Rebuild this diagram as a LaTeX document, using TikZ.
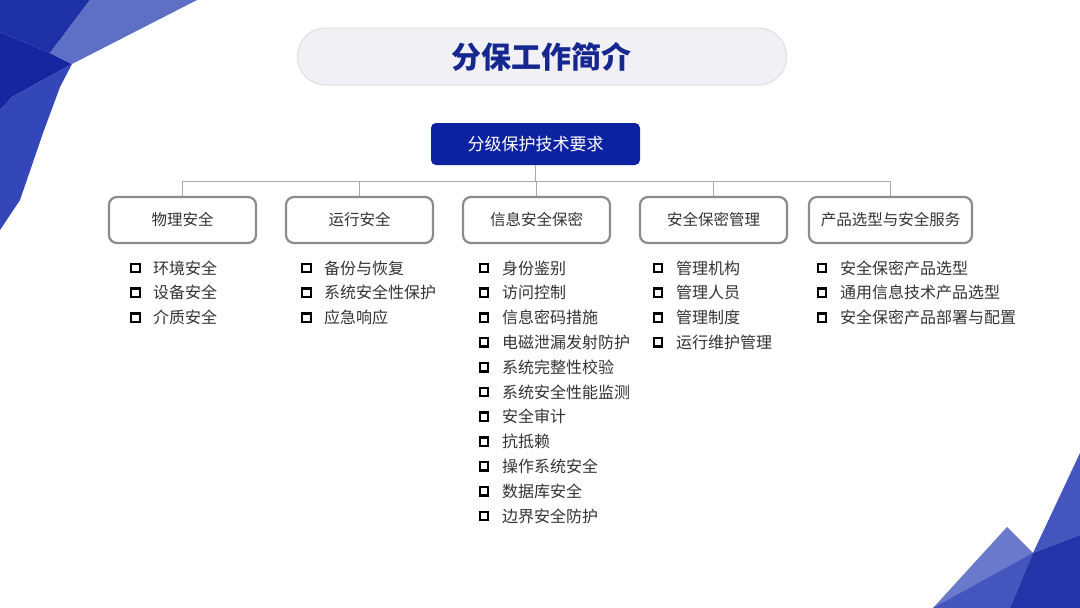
\documentclass[tikz,border=0pt]{standalone}
\usepackage{fontspec}
\newfontfamily\cjk{Noto Sans CJK SC}
\definecolor{navy}{HTML}{0D22A0}
\definecolor{titleblue}{HTML}{16278F}
\definecolor{txt}{HTML}{333333}
\definecolor{conn}{HTML}{A8A8A8}
\definecolor{boxline}{HTML}{8C8C8C}
\definecolor{pill}{HTML}{F1F1F5}
\definecolor{pillline}{HTML}{DEDEE3}
\definecolor{bA}{HTML}{1E30A6}
\definecolor{bB}{HTML}{1526A0}
\definecolor{bC}{HTML}{3347B8}
\definecolor{bD}{HTML}{5E6FC6}
\definecolor{bE}{HTML}{6A79CB}
\definecolor{bF}{HTML}{4456BE}
\definecolor{bG}{HTML}{2234A8}
\tikzset{
  cat/.style={draw=boxline, line width=2.2pt, rounded corners=8pt, fill=white,
    minimum width=147pt, minimum height=46pt, inner sep=0pt, text=txt, font=\cjk\fontsize{15.5}{18}\selectfont},
  topbox/.style={fill=navy, rounded corners=5pt, minimum width=209pt, minimum height=42pt,
    inner sep=0pt, text=white, font=\cjk\fontsize{17}{20}\selectfont},
  connline/.style={draw=conn, line width=1pt},
  item/.style={anchor=west, inner sep=0pt, text=txt, font=\cjk\fontsize{16}{18}\selectfont},
  bullet/.style={draw=black, line width=2.4pt, minimum size=8.5pt, inner sep=0pt}
}
\begin{document}
\begin{tikzpicture}[x=1pt,y=-1pt]
\useasboundingbox (0,0) rectangle (1080,608);
% corner decorations
\fill[bA] (0,0) -- (90,0) -- (50,53) -- (0,32) -- cycle;
\fill[bB] (0,32) -- (50,53) -- (72,64) -- (12,97) -- (0,110) -- cycle;
\fill[bC] (0,110) -- (12,97) -- (72,64) -- (60,87) -- (43,133) -- (20,200) -- (0,230) -- cycle;
\fill[bD] (90,0) -- (197,0) -- (72,64) -- (50,53) -- cycle;
\fill[bE] (933,608) -- (1007,527) -- (1033,553) -- (1010,608) -- cycle;
\fill[bF] (1033,553) -- (1080,453) -- (1080,535) -- cycle;
\fill[bG] (1033,553) -- (1080,535) -- (1080,608) -- (1010,608) -- cycle;
\fill[bF] (933,608) -- (1033,553) -- (1010,608) -- cycle;
% title
\node[draw=pillline, line width=1pt, fill=pill, rounded corners=28pt, minimum width=489pt, minimum height=57pt, inner sep=0pt] (pill) at (542,56.5) {};
\node[text=titleblue, font=\cjk\bfseries\fontsize{30}{34}\selectfont] (title) at (541,57) {分保工作简介};
% top node
\node[topbox] (top) at (535.5,144) {分级保护技术要求};
% categories
\node[cat] (c1) at (182.5,220) {物理安全};
\node[cat] (c2) at (359.5,220) {运行安全};
\node[cat] (c3) at (536.5,220) {信息安全保密};
\node[cat] (c4) at (713.5,220) {安全保密管理};
\node[cat, minimum width=163pt] (c5) at (890.5,220) {产品选型与安全服务};
% connectors
\coordinate (bus) at (537,181);
\draw[connline] (top.south) -- (top.south |- bus);
\draw[connline] (c1.north) -- (c1.north |- bus) -- (c5.north |- bus) -- (c5.north);
\draw[connline] (c2.north) -- (c2.north |- bus);
\draw[connline] (c3.north) -- (c3.north |- bus);
\draw[connline] (c4.north) -- (c4.north |- bus);
% items
\foreach \t [count=\i] in {环境安全,设备安全,介质安全}{
  \node[bullet] (b1-\i) at (135.5,{268+(\i-1)*24.8}) {};
  \node[item] (i1-\i) at (153,{268+(\i-1)*24.8}) {\t};}
\foreach \t [count=\i] in {备份与恢复,系统安全性保护,应急响应}{
  \node[bullet] (b2-\i) at (306.5,{268+(\i-1)*24.8}) {};
  \node[item] (i2-\i) at (324,{268+(\i-1)*24.8}) {\t};}
\foreach \t [count=\i] in {身份鉴别,访问控制,信息密码措施,电磁泄漏发射防护,系统完整性校验,系统安全性能监测,安全审计,抗抵赖,操作系统安全,数据库安全,边界安全防护}{
  \node[bullet] (b3-\i) at (484,{268+(\i-1)*24.8}) {};
  \node[item] (i3-\i) at (502,{268+(\i-1)*24.8}) {\t};}
\foreach \t [count=\i] in {管理机构,管理人员,管理制度,运行维护管理}{
  \node[bullet] (b4-\i) at (658,{268+(\i-1)*24.8}) {};
  \node[item] (i4-\i) at (676,{268+(\i-1)*24.8}) {\t};}
\foreach \t [count=\i] in {安全保密产品选型,通用信息技术产品选型,安全保密产品部署与配置}{
  \node[bullet] (b5-\i) at (822,{268+(\i-1)*24.8}) {};
  \node[item] (i5-\i) at (840,{268+(\i-1)*24.8}) {\t};}
\end{tikzpicture}
\end{document}
